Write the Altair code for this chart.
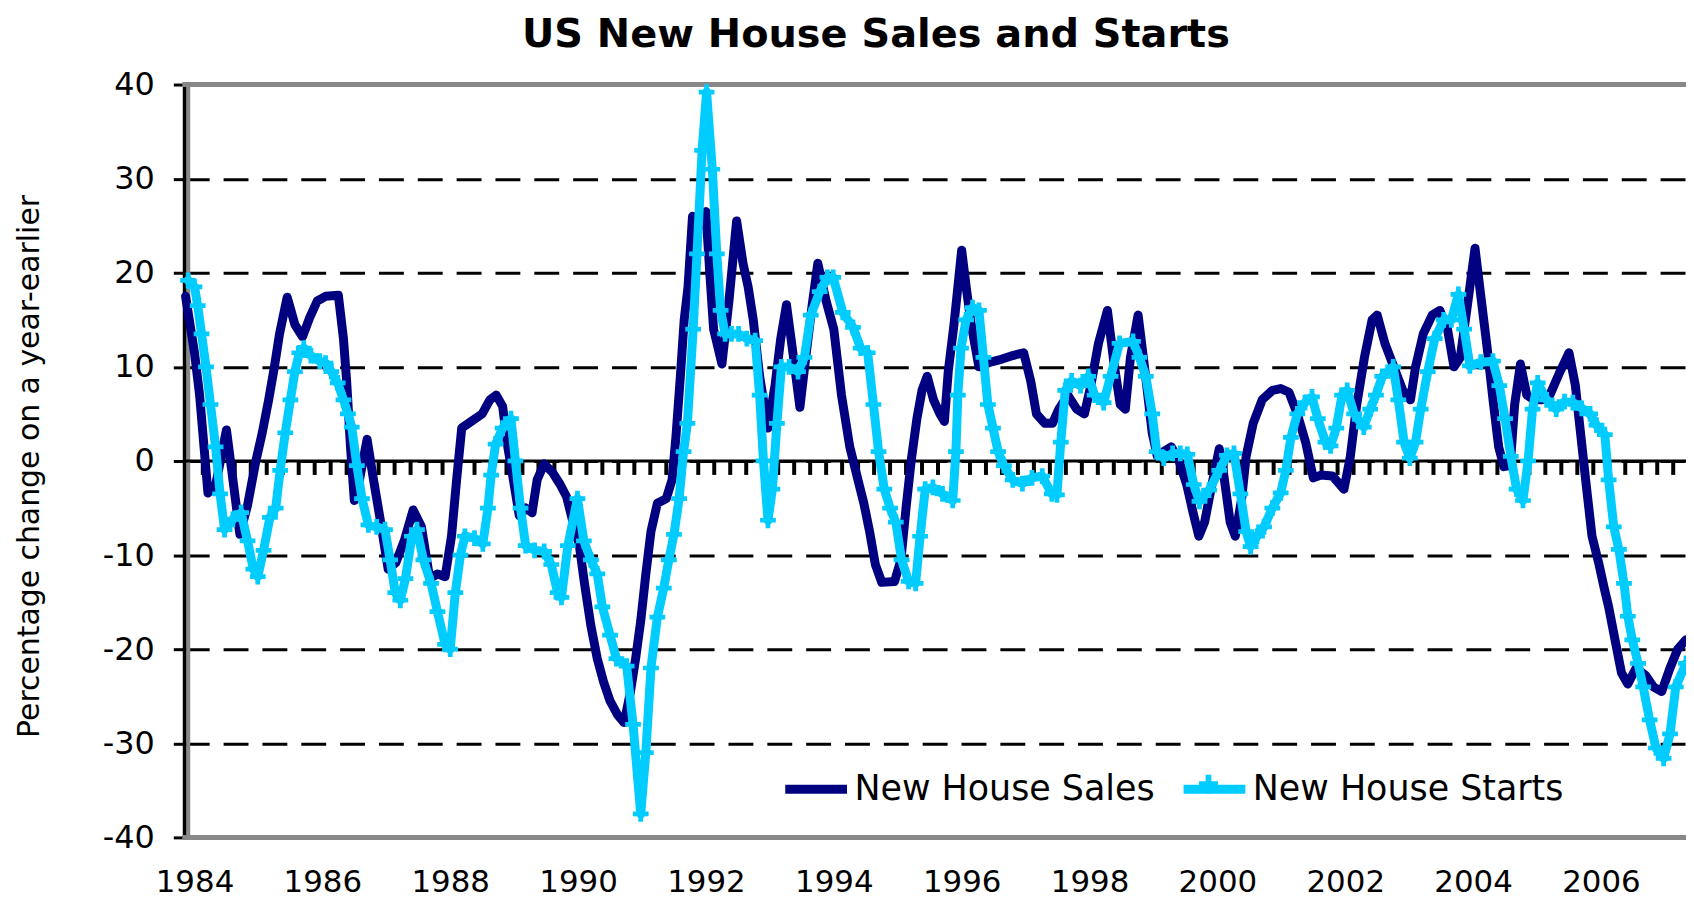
import altair as alt
import pandas as pd

TITLE = "US New House Sales and Starts"
Y_TITLE = "Percentage change on a year-earlier"
SERIES = ["New House Sales", "New House Starts"]
COLORS = ["#000080", "#00CCFF"]
FONT = "DejaVu Sans"

sales_t = [1983.86, 1984.00, 1984.08, 1984.21, 1984.33, 1984.50, 1984.62, 1984.71, 1984.83, 1984.96,
           1985.06, 1985.16, 1985.25, 1985.33, 1985.45, 1985.57, 1985.69, 1985.80, 1985.92, 1986.05,
           1986.25, 1986.33, 1986.38, 1986.44, 1986.50, 1986.58, 1986.70, 1986.80, 1986.90, 1987.03,
           1987.15, 1987.28, 1987.42, 1987.55, 1987.68, 1987.80, 1987.92, 1988.02, 1988.10, 1988.18,
           1988.35, 1988.50, 1988.62, 1988.72, 1988.82, 1988.90, 1989.00, 1989.08, 1989.18, 1989.28,
           1989.36, 1989.47, 1989.60, 1989.72, 1989.82, 1989.92, 1990.02, 1990.10, 1990.20, 1990.30,
           1990.40, 1990.50, 1990.62, 1990.72, 1990.82, 1990.90, 1990.98, 1991.06, 1991.14, 1991.24,
           1991.38, 1991.47, 1991.53, 1991.60, 1991.66, 1991.72, 1991.79, 1991.90, 1992.00, 1992.06,
           1992.12, 1992.25, 1992.36, 1992.48, 1992.58, 1992.66, 1992.74, 1992.84, 1992.97, 1993.08,
           1993.17, 1993.26, 1993.36, 1993.47, 1993.57, 1993.66, 1993.75, 1993.88, 1994.00, 1994.12,
           1994.25, 1994.37, 1994.47, 1994.56, 1994.65, 1994.75, 1994.95, 1995.05, 1995.13, 1995.21,
           1995.30, 1995.38, 1995.46, 1995.56, 1995.66, 1995.73, 1995.79, 1995.88, 1996.00, 1996.08,
           1996.15, 1996.27, 1996.45, 1996.62, 1996.80, 1996.97, 1997.08, 1997.17, 1997.30, 1997.42,
           1997.52, 1997.66, 1997.80, 1997.92, 1998.02, 1998.14, 1998.28, 1998.38, 1998.48, 1998.56,
           1998.64, 1998.76, 1998.86, 1998.98, 1999.06, 1999.16, 1999.28, 1999.40, 1999.52, 1999.62,
           1999.71, 1999.80, 1999.90, 2000.03, 2000.10, 2000.20, 2000.28, 2000.38, 2000.45, 2000.56,
           2000.70, 2000.86, 2000.99, 2001.12, 2001.25, 2001.38, 2001.50, 2001.62, 2001.80, 2001.98,
           2002.08, 2002.18, 2002.30, 2002.42, 2002.50, 2002.62, 2002.76, 2002.90, 2003.02, 2003.10,
           2003.22, 2003.36, 2003.48, 2003.60, 2003.70, 2003.80, 2003.90, 2004.03, 2004.13, 2004.22,
           2004.32, 2004.40, 2004.48, 2004.58, 2004.65, 2004.74, 2004.84, 2004.95, 2005.08, 2005.20,
           2005.36, 2005.50, 2005.60, 2005.68, 2005.76, 2005.86, 2005.97, 2006.05, 2006.12, 2006.22,
           2006.32, 2006.42, 2006.55, 2006.70, 2006.82, 2006.95, 2007.08, 2007.20, 2007.33]
sales_v = [17.5, 11.5, 7.0, -3.4, -2.6, 3.3, -3.0, -7.8, -4.7, 0.0,
           3.0, 6.5, 10.0, 13.5, 17.4, 14.5, 13.2, 15.2, 17.0, 17.5,
           17.6, 13.0, 8.5, 1.5, -4.2, -2.0, 2.3, -2.0, -6.0, -11.5,
           -10.8, -8.5, -5.2, -7.0, -12.5, -12.0, -12.3, -8.0, -2.0, 3.5,
           4.3, 5.0, 6.5, 7.0, 5.8, 1.5, -2.5, -5.8, -5.0, -5.5,
           -2.0, -0.3, -1.2, -2.5, -3.8, -6.5, -9.0, -13.0, -17.5, -21.0,
           -23.5, -25.5, -27.0, -27.8, -24.5, -21.0, -17.0, -12.0, -7.5, -4.5,
           -4.0, -2.0, 2.5, 9.0, 15.0, 18.5, 26.0, 25.0, 26.5, 20.0,
           14.0, 10.3, 17.0, 25.5, 21.0, 18.5, 15.0, 9.0, 3.5, 8.0,
           13.0, 16.6, 11.5, 5.7, 11.5, 16.5, 21.0, 17.0, 14.0, 7.0,
           1.5, -1.8, -4.5, -7.5, -11.0, -12.9, -12.8, -10.5, -5.0, 0.0,
           4.5, 7.5, 9.0, 6.5, 5.0, 4.2, 9.5, 14.5, 22.4, 18.0,
           14.5, 10.0, 10.5, 10.8, 11.2, 11.5, 8.5, 5.0, 4.0, 4.0,
           5.5, 7.0, 5.5, 5.0, 8.0, 12.5, 16.0, 10.5, 6.0, 5.5,
           11.0, 15.5, 10.0, 3.0, 0.5, 1.0, 1.5, 0.0, -2.5, -5.5,
           -8.0, -6.5, -3.0, 1.3, -1.5, -6.5, -8.0, -4.0, 0.5, 4.0,
           6.5, 7.5, 7.7, 7.3, 5.0, 2.0, -1.8, -1.5, -1.6, -3.0,
           0.5, 6.0, 11.0, 15.0, 15.5, 12.5, 10.0, 7.5, 6.5, 10.0,
           13.5, 15.5, 16.0, 14.0, 10.0, 11.0, 16.0, 22.6, 17.0, 12.0,
           6.0, 1.5, -0.6, -0.5, 6.0, 10.3, 7.0, 6.5, 6.5, 7.0,
           9.5, 11.5, 8.0, 3.0, -2.0, -8.0, -11.0, -13.5, -15.5, -19.0,
           -22.5, -23.7, -22.0, -22.8, -24.0, -24.5, -22.0, -20.0, -19.0]

starts_t = [1983.90, 1984.00, 1984.05, 1984.11, 1984.18, 1984.25, 1984.33, 1984.40, 1984.47, 1984.60,
            1984.73, 1984.83, 1984.92, 1984.99, 1985.08, 1985.18, 1985.27, 1985.34, 1985.42, 1985.50,
            1985.57, 1985.64, 1985.71, 1985.82, 1985.96, 1986.05, 1986.14, 1986.24, 1986.33, 1986.40,
            1986.46, 1986.54, 1986.62, 1986.72, 1986.85, 1986.98, 1987.06, 1987.14, 1987.22, 1987.30,
            1987.40, 1987.48, 1987.58, 1987.70, 1987.80, 1987.92, 1988.00, 1988.08, 1988.16, 1988.23,
            1988.38, 1988.51, 1988.59, 1988.64, 1988.71, 1988.82, 1988.95, 1989.02, 1989.10, 1989.18,
            1989.32, 1989.47, 1989.58, 1989.68, 1989.74, 1989.84, 1989.99, 1990.09, 1990.20, 1990.30,
            1990.38, 1990.50, 1990.60, 1990.76, 1990.86, 1990.98, 1991.06, 1991.14, 1991.24, 1991.34,
            1991.42, 1991.50, 1991.58, 1991.65, 1991.71, 1991.80, 1991.86, 1991.94, 1992.01, 1992.10,
            1992.17, 1992.23, 1992.30, 1992.40, 1992.51, 1992.64, 1992.77, 1992.84, 1992.90, 1992.97,
            1993.04, 1993.11, 1993.18, 1993.30, 1993.44, 1993.54, 1993.64, 1993.78, 1993.90, 1993.99,
            1994.14, 1994.30, 1994.42, 1994.53, 1994.62, 1994.70, 1994.79, 1994.88, 1994.97, 1995.06,
            1995.17, 1995.28, 1995.35, 1995.43, 1995.55, 1995.70, 1995.86, 1995.91, 1995.94, 1995.99,
            1996.07, 1996.17, 1996.27, 1996.34, 1996.41, 1996.49, 1996.57, 1996.66, 1996.80, 1996.95,
            1997.10, 1997.26, 1997.41, 1997.49, 1997.55, 1997.62, 1997.72, 1997.86, 1997.98, 1998.08,
            1998.22, 1998.33, 1998.47, 1998.68, 1998.78, 1998.88, 1998.98, 1999.05, 1999.16, 1999.30,
            1999.42, 1999.53, 1999.63, 1999.72, 1999.87, 2000.03, 2000.15, 2000.26, 2000.36, 2000.45,
            2000.52, 2000.62, 2000.73, 2000.86, 2000.99, 2001.07, 2001.15, 2001.25, 2001.37, 2001.48,
            2001.57, 2001.69, 2001.77, 2001.86, 2001.95, 2002.03, 2002.14, 2002.29, 2002.39, 2002.48,
            2002.58, 2002.75, 2002.83, 2002.92, 2003.01, 2003.10, 2003.18, 2003.29, 2003.40, 2003.54,
            2003.66, 2003.77, 2003.86, 2003.95, 2004.12, 2004.31, 2004.41, 2004.50, 2004.59, 2004.68,
            2004.78, 2004.86, 2004.93, 2005.01, 2005.15, 2005.30, 2005.43, 2005.56, 2005.70, 2005.83,
            2005.93, 2006.06, 2006.12, 2006.20, 2006.28, 2006.36, 2006.42, 2006.49, 2006.58, 2006.66,
            2006.76, 2006.86, 2006.98, 2007.08, 2007.17, 2007.33]
starts_v = [19.2, 18.5, 16.5, 13.5, 10.0, 6.0, 1.5, -3.5, -7.3, -6.2,
            -5.5, -8.5, -11.5, -12.3, -9.5, -6.0, -5.0, -1.0, 3.0, 6.5,
            9.5, 11.5, 12.0, 11.2, 10.6, 10.4, 9.5, 8.3, 6.5, 5.0,
            3.6, -0.5, -4.0, -6.8, -7.0, -7.3, -10.5, -14.0, -14.8, -12.5,
            -8.0, -7.3, -10.5, -13.0, -16.0, -19.5, -20.0, -14.0, -10.0, -8.0,
            -8.2, -8.8, -5.0, -1.5, 1.8, 3.5, 4.5, 0.0, -5.0, -9.0,
            -9.5, -9.6, -11.0, -14.0, -14.5, -9.0, -4.0, -8.5, -10.5, -12.0,
            -15.5, -18.5, -21.0, -21.8, -28.0, -37.5, -31.0, -22.0, -16.6, -13.5,
            -10.5, -7.8, -4.0, 1.0, 4.0, 14.0, 22.0, 33.0, 39.2, 31.0,
            22.0, 16.0, 13.5, 13.5, 13.5, 13.0, 12.8, 7.0, 0.0, -6.3,
            -3.0, 4.0, 10.0, 10.0, 9.5, 11.0, 15.5, 18.0, 19.5, 19.5,
            15.8, 14.2, 12.0, 11.5, 6.0, 1.0, -3.0, -5.0, -6.5, -10.5,
            -12.8, -13.0, -8.0, -3.0, -2.8, -3.5, -4.2, 1.0, 7.0, 12.0,
            15.0, 16.3, 16.0, 11.0, 6.0, 3.5, 1.0, -0.5, -2.0, -2.4,
            -1.8, -1.6, -3.5, -3.6, 2.0, 7.5, 8.5, 8.0, 9.0, 7.0,
            6.2, 9.0, 12.5, 12.7, 11.0, 9.0, 5.0, 1.0, 0.3, 0.8,
            0.8, 0.7, -2.5, -4.3, -3.1, -1.0, 0.6, 0.8, -3.5, -7.5,
            -9.1, -8.0, -7.0, -5.0, -3.4, -1.0, 2.5, 5.0, 6.2, 6.8,
            4.5, 2.0, 1.6, 3.5, 7.0, 7.5, 5.0, 3.6, 5.5, 7.0,
            9.0, 10.0, 6.5, 2.0, 0.3, 2.0, 5.5, 9.5, 13.0, 15.0,
            15.0, 17.7, 14.0, 10.1, 10.5, 10.6, 8.0, 4.5, 0.5, -3.0,
            -4.2, 0.0, 5.5, 8.3, 6.5, 5.5, 6.3, 6.2, 5.6, 5.0,
            3.8, 2.8, -2.0, -7.0, -9.4, -13.0, -16.5, -19.0, -21.5, -24.0,
            -27.5, -30.5, -31.6, -29.0, -24.0, -21.5]

y_ticks = [-40, -30, -20, -10, 0, 10, 20, 30, 40]
year_labels = [1984, 1986, 1988, 1990, 1992, 1994, 1996, 1998, 2000, 2002, 2004, 2006]
quarter_ticks = [round(1983.88 + 0.25 * j, 2) for j in range(1, 94)]

X_DOMAIN = [1983.84, 2007.33]
W, H = 1508, 756
CROSS = "M-1,-0.3H1V0.3H-1Z M-0.3,-1H0.3V1H-0.3Z"

df = pd.DataFrame({
    "t": sales_t + starts_t,
    "v": sales_v + starts_v,
    "series": [SERIES[0]] * len(sales_t) + [SERIES[1]] * len(starts_t),
})

x_enc = alt.X("t:Q", scale=alt.Scale(domain=X_DOMAIN, nice=False, zero=False),
              axis=alt.Axis(values=year_labels, format="d", ticks=False, domain=False, grid=False,
                            labelFont=FONT, labelFontSize=31, labelColor="black", labelPadding=30,
                            labelFlush=False, labelOverlap=False, title=None))
y_enc = alt.Y("v:Q", scale=alt.Scale(domain=[-40, 40], nice=False, zero=False),
              axis=alt.Axis(values=y_ticks, labelExpr="'' + datum.value",
                            title=Y_TITLE, titleFont=FONT, titleFontSize=30,
                            titleFontWeight="normal", titleColor="black", titleAngle=270,
                            titleX=-155, titleY=383, titleAlign="center", titleBaseline="middle",
                            labelFont=FONT, labelFontSize=32, labelColor="black", labelPadding=19,
                            tickSize=11, tickWidth=3, tickColor="black",
                            domainColor="black", domainWidth=4,
                            grid=True, gridColor="black", gridWidth=3, gridDash=[25, 14]))
legend = alt.Legend(orient="none", legendX=599, legendY=672, direction="horizontal", title=None,
                    symbolType="stroke", symbolSize=3844, symbolStrokeWidth=9,
                    labelFont=FONT, labelFontSize=35, labelColor="black", labelOffset=3,
                    columnPadding=10, padding=0, labelLimit=0)
color_enc = alt.Color("series:N", scale=alt.Scale(domain=SERIES, range=COLORS), legend=legend)
marker_legend = alt.Legend(orient="none", legendX=1019, legendY=693, title=None,
                           symbolSize=361, symbolFillColor=COLORS[1], symbolStrokeColor=COLORS[1],
                           symbolStrokeWidth=0, symbolOpacity=1, labelExpr="''", padding=0)
shape_enc = alt.Shape("series:N", scale=alt.Scale(domain=[SERIES[1]], range=[CROSS]), legend=marker_legend)

one = pd.DataFrame({"d": [0]})
border_top = alt.Chart(one).mark_rule(color="#888888", strokeWidth=5).encode(
    x=alt.value(-2), x2=alt.value(W), y=alt.value(0))
border_bottom = alt.Chart(one).mark_rule(color="#888888", strokeWidth=5).encode(
    x=alt.value(-2), x2=alt.value(W), y=alt.value(H))
border_left = alt.Chart(one).mark_rule(color="#888888", strokeWidth=4).encode(
    x=alt.value(4), y=alt.value(0), y2=alt.value(H))

zero_line = alt.Chart(pd.DataFrame({"v": [0]})).mark_rule(color="black", strokeWidth=3).encode(y=y_enc)
qticks = alt.Chart(pd.DataFrame({"t": quarter_ticks, "v": [0] * len(quarter_ticks)})).mark_rule(
    color="black", strokeWidth=4).encode(x=x_enc, y=y_enc, y2=alt.value(392))

base = alt.Chart(df)
sales_line = base.transform_filter(alt.datum.series == SERIES[0]).mark_line(
    strokeWidth=9, strokeJoin="round", strokeCap="round").encode(x=x_enc, y=y_enc, color=color_enc)
starts_line = base.transform_filter(alt.datum.series == SERIES[1]).mark_line(
    strokeWidth=9, strokeJoin="round", strokeCap="round").encode(x=x_enc, y=y_enc, color=color_enc)
starts_pts = base.transform_filter(alt.datum.series == SERIES[1]).mark_point(
    filled=True, size=250, opacity=1, color=COLORS[1], strokeWidth=0).encode(
    x=x_enc, y=y_enc, shape=shape_enc)

title = alt.Chart(pd.DataFrame({"title": [TITLE]})).mark_text(
    font=FONT, fontSize=40, fontWeight="bold", color="black", align="center", baseline="alphabetic"
).encode(text="title:N", x=alt.value(694.5), y=alt.value(-37.8))

chart = alt.layer(
    border_top, border_bottom, border_left, zero_line, qticks,
    sales_line, starts_line, starts_pts, title
).properties(
    width=W, height=H,
    padding={"left": 177, "top": 75, "right": 0, "bottom": 62},
    autosize=alt.AutoSizeParams(type="none"),
).configure_view(stroke=None)

chart.save("out.html", embed_options={"renderer": "svg", "actions": False})
